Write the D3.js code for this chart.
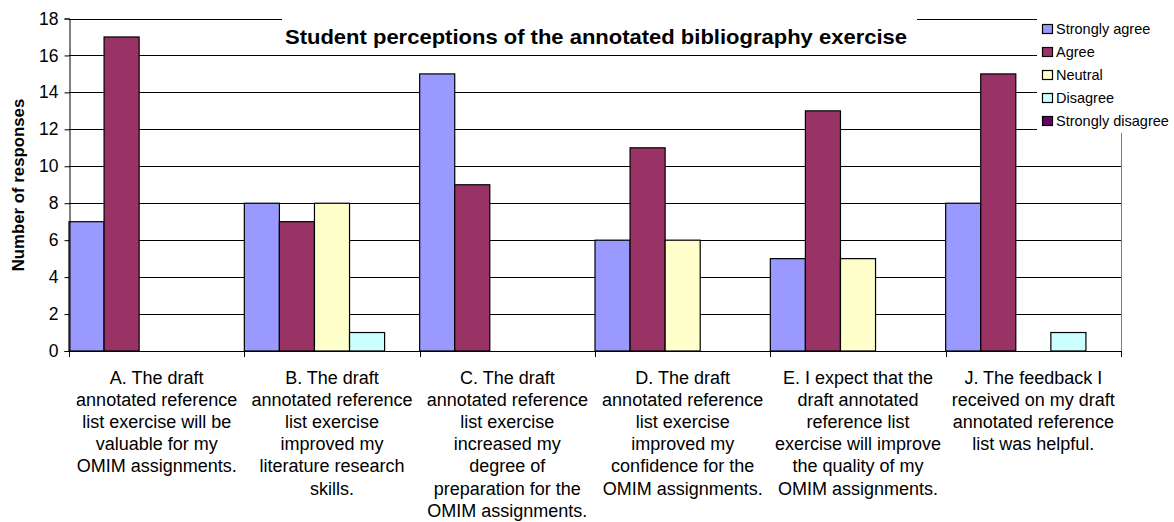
<!DOCTYPE html>
<html>
<head>
<meta charset="utf-8">
<script src="https://cdn.jsdelivr.net/npm/d3@7"></script>
<style>
  body { margin: 0; background: #fff; }
  svg { display: block; font-family: "Liberation Sans", Arial, sans-serif; }
</style>
</head>
<body>
<svg class="chart" width="1174" height="522"></svg>
<script>
// chart data
const categories = ['A', 'B', 'C', 'D', 'E', 'J'];
const categoryLabels = [
    ['A. The draft', 'annotated reference', 'list exercise will be', 'valuable for my', 'OMIM assignments.'],
    ['B. The draft', 'annotated reference', 'list exercise', 'improved my', 'literature research', 'skills.'],
    ['C. The draft', 'annotated reference', 'list exercise', 'increased my', 'degree of', 'preparation for the', 'OMIM assignments.'],
    ['D. The draft', 'annotated reference', 'list exercise', 'improved my', 'confidence for the', 'OMIM assignments.'],
    ['E. I expect that the', 'draft annotated', 'reference list', 'exercise will improve', 'the quality of my', 'OMIM assignments.'],
    ['J. The feedback I', 'received on my draft', 'annotated reference', 'list was helpful.']
];
const seriesNames = ['Strongly agree', 'Agree', 'Neutral', 'Disagree', 'Strongly disagree'];
const seriesColors = ['#9999FF', '#993366', '#FFFFCC', '#CCFFFF', '#660066'];
const stronglyAgree    = [7, 8, 15, 6, 5, 8];
const agree            = [17, 7, 9, 11, 13, 15];
const neutral          = [0, 8, 0, 6, 5, 0];
const disagree         = [0, 1, 0, 0, 0, 1];
const stronglyDisagree = [0, 0, 0, 0, 0, 0];
const yTicks = [0, 2, 4, 6, 8, 10, 12, 14, 16, 18];
const chartTitle = 'Student perceptions of the annotated bibliography exercise';
const yTitle = 'Number of responses';

const seriesValues = [stronglyAgree, agree, neutral, disagree, stronglyDisagree];

const plotLeft = 69, plotRight = 1121, plotTop = 18.5, plotBottom = 351;

const svg = d3.select('.chart');

// scales
const x = d3.scaleBand().domain(categories).range([plotLeft, plotRight]).padding(0);
const xs = d3.scaleBand().domain(seriesNames).range([0, x.bandwidth()]).padding(0);
const y = d3.scaleLinear().domain([0, 18]).range([plotBottom, plotTop]);

// gridlines
svg.append('g')
    .selectAll('line')
    .data(yTicks.filter(d => d > 0))
    .enter().append('line')
    .attr('x1', plotLeft).attr('x2', plotRight)
    .attr('y1', d => Math.round(y(d)) + 0.5)
    .attr('y2', d => Math.round(y(d)) + 0.5)
    .attr('stroke', '#000');

// right border of plot area
svg.append('line')
    .attr('x1', plotRight + 0.5).attr('x2', plotRight + 0.5)
    .attr('y1', plotTop).attr('y2', plotBottom)
    .attr('stroke', '#808080');

// bars
const rows = categories.map((c, i) => ({
    cat: c,
    vals: seriesNames.map((s, j) => ({ s: s, v: seriesValues[j][i], color: seriesColors[j] }))
}));

const group = svg.selectAll('g.cat')
    .data(rows)
    .enter().append('g')
    .attr('class', 'cat')
    .attr('transform', d => 'translate(' + x(d.cat) + ',0)');

group.selectAll('rect')
    .data(d => d.vals.filter(v => v.v > 0))
    .enter().append('rect')
    .attr('x', d => xs(d.s))
    .attr('y', d => y(d.v))
    .attr('width', xs.bandwidth())
    .attr('height', d => y(0) - y(d.v))
    .attr('fill', d => d.color)
    .attr('stroke', '#000')
    .attr('stroke-width', 1.2);

// y axis
const yAxis = svg.append('g')
    .attr('transform', 'translate(' + (plotLeft + 0.5) + ',0)')
    .call(d3.axisLeft(y).tickValues(yTicks).tickSize(5).tickPadding(6));
yAxis.select('.domain').attr('stroke', '#000');
yAxis.selectAll('.tick line').attr('stroke', '#000');
yAxis.selectAll('.tick text')
    .attr('font-size', 17.5)
    .attr('fill', '#000')
    .attr('font-family', '"Liberation Sans", Arial, sans-serif');

// x axis line and boundary ticks
svg.append('line')
    .attr('x1', plotLeft).attr('x2', plotRight + 1)
    .attr('y1', plotBottom + 0.5).attr('y2', plotBottom + 0.5)
    .attr('stroke', '#000');

const bounds = categories.map(c => x(c)).concat([plotRight]);
svg.append('g')
    .selectAll('line')
    .data(bounds)
    .enter().append('line')
    .attr('x1', d => Math.round(d) + 0.5).attr('x2', d => Math.round(d) + 0.5)
    .attr('y1', plotBottom).attr('y2', plotBottom + 6)
    .attr('stroke', '#000');

// category labels
const labels = svg.append('g')
    .selectAll('text')
    .data(categories)
    .enter().append('text')
    .attr('x', d => x(d) + x.bandwidth() / 2)
    .attr('y', 383.5)
    .attr('text-anchor', 'middle')
    .attr('font-size', 18)
    .attr('fill', '#000');

labels.selectAll('tspan')
    .data((d, i) => categoryLabels[i])
    .enter().append('tspan')
    .attr('x', function() { return d3.select(this.parentNode).attr('x'); })
    .attr('dy', (d, i) => i === 0 ? 0 : 22.2)
    .text(d => d);

// y axis title
svg.append('text')
    .attr('transform', 'translate(24,185) rotate(-90)')
    .attr('text-anchor', 'middle')
    .attr('font-size', 16.8)
    .attr('font-weight', 'bold')
    .text(yTitle);

// chart title with its white box
svg.append('rect')
    .attr('x', 282).attr('y', 12)
    .attr('width', 635).attr('height', 42)
    .attr('fill', '#fff');
svg.append('text')
    .attr('x', 285).attr('y', 44)
    .attr('font-size', 20.5)
    .attr('font-weight', 'bold')
    .attr('textLength', 622)
    .attr('lengthAdjust', 'spacingAndGlyphs')
    .text(chartTitle);

// legend
svg.append('rect')
    .attr('x', 1037).attr('y', 10)
    .attr('width', 137).attr('height', 123)
    .attr('fill', '#fff');

const legend = svg.append('g')
    .selectAll('g')
    .data(seriesNames)
    .enter().append('g')
    .attr('transform', (d, i) => 'translate(1042,' + (29 + i * 23) + ')');

legend.append('rect')
    .attr('x', 0.5).attr('y', -4.5)
    .attr('width', 10).attr('height', 9)
    .attr('fill', (d, i) => seriesColors[i])
    .attr('stroke', '#000')
    .attr('stroke-width', 1.2);

legend.append('text')
    .attr('x', 14)
    .attr('y', 0)
    .attr('dy', '0.36em')
    .attr('font-size', 14.5)
    .text(d => d);
</script>
</body>
</html>
